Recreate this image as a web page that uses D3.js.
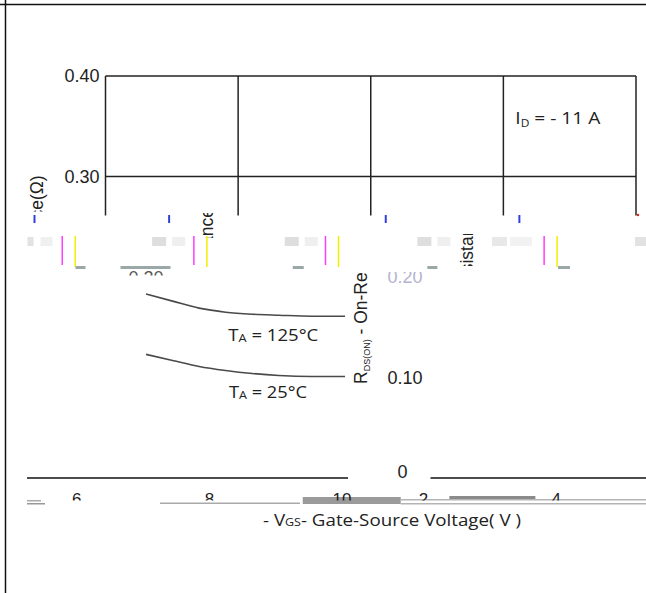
<!DOCTYPE html>
<html>
<head>
<meta charset="utf-8">
<script src="https://cdn.jsdelivr.net/npm/d3@7"></script>
<style>
body { margin: 0; background: #fff; overflow: hidden; }
svg { display: block; }
</style>
</head>
<body>
<div class="canvas"></div>
<script>
const vgsTicks = [2, 4, 6, 8, 10]
const rdsTicks = [0, 0.10, 0.20, 0.30, 0.40]
const rdsFormat = d => d === 0 ? '0' : d.toFixed(2)

// only the right part of the curves survived in the scan
const vgs = [7.0, 7.4, 7.8, 8.2, 8.6, 9.0, 9.5, 10]
const rds125 = [0.183, 0.176, 0.169, 0.165, 0.163, 0.162, 0.161, 0.161]
const rds25 = [0.123, 0.117, 0.111, 0.107, 0.104, 0.102, 0.101, 0.101]
const tempNames = ['125', '25']
const tempLabelV = [8.24, 8.25]
const tempLabelR = [0.136, 0.080]

const width = 646, height = 593
const armo = "'Liberation Sans', Arial, sans-serif"
const cali = "'Open Sans', Lato, sans-serif"

const svg = d3.select('.canvas').append('svg')
    .attr('width', width)
    .attr('height', height)

svg.append('rect')
    .attr('width', width).attr('height', height)
    .attr('fill', '#fff')

const x = d3.scaleLinear().domain([2, 10]).range([105.5, 636])
const y = d3.scaleLinear().domain([0, 0.4]).range([478, 76])
const gx = vgsTicks.map(x)

// the scan rows below the tear are shifted sideways (and wrap round)
const rowShift = 323, rowWrap = 614

let clipCount = 0
function band(x0, y0, x1, y1) {
    const id = 'clip' + (clipCount++)
    svg.append('clipPath').attr('id', id)
        .append('rect')
        .attr('x', x0).attr('y', y0)
        .attr('width', x1 - x0).attr('height', y1 - y0)
    return svg.append('g').attr('clip-path', `url(#${id})`)
}

function yTitle(g, bx, by) {
    const t = g.append('text')
        .attr('transform', `translate(${bx},${by}) rotate(-90)`)
        .attr('font-family', armo)
        .attr('font-size', 17.5)
        .attr('fill', '#222')
    t.append('tspan').text('R')
    t.append('tspan').attr('font-size', 9).attr('dy', 3).text('DS(ON)')
    t.append('tspan').attr('dy', -3).text(' - On-Resistance(\u03a9)')
}

// page frame
svg.append('line')
    .attr('x1', 0).attr('x2', width)
    .attr('y1', 4.5).attr('y2', 4.5)
    .attr('stroke', '#111').attr('stroke-width', 1.5)
svg.append('line')
    .attr('x1', 5.5).attr('x2', 5.5)
    .attr('y1', 0).attr('y2', height)
    .attr('stroke', '#111').attr('stroke-width', 1.5)

// ---- intact top strip
const upper = band(0, 0, width, 215.5)

upper.selectAll('.vgrid')
    .data(vgsTicks)
    .join('line')
    .attr('x1', d => x(d)).attr('x2', d => x(d))
    .attr('y1', y(0.4)).attr('y2', y(0))
    .attr('stroke', '#222').attr('stroke-width', 1.5)

upper.selectAll('.hgrid')
    .data(rdsTicks)
    .join('line')
    .attr('x1', x(2)).attr('x2', x(10))
    .attr('y1', d => y(d)).attr('y2', d => y(d))
    .attr('stroke', '#222').attr('stroke-width', 1.5)

upper.selectAll('.ylab')
    .data(rdsTicks)
    .join('text')
    .attr('x', x(2) - 6)
    .attr('y', d => y(d))
    .attr('dy', '0.36em')
    .attr('text-anchor', 'end')
    .attr('font-family', armo)
    .attr('font-size', 18)
    .attr('fill', '#222')
    .text(rdsFormat)

const idLab = upper.append('text')
    .attr('x', x(8.18)).attr('y', y(0.352))
    .attr('textLength', 85).attr('lengthAdjust', 'spacingAndGlyphs')
    .attr('font-family', cali).attr('font-size', 16).attr('fill', '#222')
idLab.append('tspan').text('I')
idLab.append('tspan').attr('font-size', 10).attr('dy', 3).text('D')
idLab.append('tspan').attr('dy', -3).text(' = - 11 A')

yTitle(band(0, 140, 60, 211.5), 43, 376)

// ---- torn strip: fragments of the title
yTitle(band(190, 213, 222, 238), 213, 384)
yTitle(band(450, 234, 482, 266), 473, 384)

// scan noise in the torn strip, placed against the gridlines
const noise = svg.append('g')
gx.slice(1, 4).forEach(g => {
    noise.append('rect').attr('x', g - 86).attr('y', 237).attr('width', 14).attr('height', 9).attr('fill', '#dedede')
    noise.append('rect').attr('x', g - 66).attr('y', 237).attr('width', 13).attr('height', 9).attr('fill', '#efefef')
})
noise.append('rect').attr('x', gx[0] - 78).attr('y', 237).attr('width', 6).attr('height', 9).attr('fill', '#e2e2e2')
noise.append('rect').attr('x', gx[0] - 65).attr('y', 237).attr('width', 12).attr('height', 9).attr('fill', '#f0f0f0')
noise.append('rect').attr('x', gx[4] - 144).attr('y', 237).attr('width', 15).attr('height', 9).attr('fill', '#e8e8e8')
noise.append('rect').attr('x', gx[4] - 126).attr('y', 237).attr('width', 22).attr('height', 9).attr('fill', '#f2f2f2')
noise.append('rect').attr('x', gx[4] - 1).attr('y', 237).attr('width', 12).attr('height', 9).attr('fill', '#e2e2e2')

const pairOffsets = [-44, -45, -46, 40]
pairOffsets.forEach((o, i) => {
    const px = gx[i] + o
    noise.append('rect').attr('x', px).attr('y', 236).attr('width', 1.5).attr('height', 29).attr('fill', '#ff3cff')
    noise.append('rect').attr('x', px + 13).attr('y', 236).attr('width', 1.5).attr('height', 31).attr('fill', '#f2f000')
})
const blueOffsets = [-72, -70, 14, 15]
blueOffsets.forEach((o, i) => {
    noise.append('rect').attr('x', gx[i] + o).attr('y', 215).attr('width', 2).attr('height', 8).attr('fill', '#3040e0')
})
;[[gx[0] - 30, 10], [gx[2] - 78, 11], [gx[3] - 76, 10], [gx[4] - 78, 12], [gx[0] + 15, 50]].forEach(([bx, bw]) => {
    noise.append('rect').attr('x', bx).attr('y', 266).attr('width', bw).attr('height', 3).attr('fill', '#9aa8a8')
})
noise.append('circle').attr('cx', 638).attr('cy', 215).attr('r', 1.2).attr('fill', '#e02020')

// top of a stray "0.20"
band(0, 262, width, 275.5).append('text')
    .attr('x', x(2) + 58).attr('y', y(0.2) + 1)
    .attr('dy', '0.36em').attr('text-anchor', 'end')
    .attr('font-family', armo).attr('font-size', 18).attr('fill', '#555')
    .text(rdsFormat(0.2))

// ---- shifted lower strip
const low = band(0, 272, width, 490)

low.selectAll('.ylab2')
    .data(rdsTicks.filter(d => d > 0 && d < 0.3))
    .join('text')
    .attr('x', x(2) - 6 + rowShift)
    .attr('y', d => y(d))
    .attr('dy', '0.36em')
    .attr('text-anchor', 'end')
    .attr('font-family', armo)
    .attr('font-size', 18)
    .attr('fill', d => d === 0.2 ? '#b4b4d2' : '#222')
    .text(rdsFormat)

low.append('text')
    .attr('x', x(2) - 6 + rowShift - 15)
    .attr('y', y(0) - 6)
    .attr('dy', '0.36em')
    .attr('text-anchor', 'end')
    .attr('font-family', armo).attr('font-size', 18).attr('fill', '#222')
    .text(rdsFormat(0))

yTitle(low, 367, 384)

// bottom border, wrapped in two pieces
low.append('line')
    .attr('x1', x(2) + rowShift + 2).attr('x2', x(10) + rowShift)
    .attr('y1', y(0)).attr('y2', y(0))
    .attr('stroke', '#111').attr('stroke-width', 1.5)
band(27, 272, width, 490).append('line')
    .attr('x1', x(2) + rowShift - rowWrap).attr('x2', x(10) + rowShift - rowWrap + 3)
    .attr('y1', y(0)).attr('y2', y(0))
    .attr('stroke', '#111').attr('stroke-width', 1.5)

const curves = low.append('g')
    .attr('transform', `translate(${rowShift - rowWrap},0)`)

const line = d3.line()
    .x((d, i) => x(vgs[i]))
    .y(d => y(d))
    .curve(d3.curveMonotoneX)

curves.selectAll('path')
    .data([rds125, rds25])
    .join('path')
    .attr('d', line)
    .attr('fill', 'none')
    .attr('stroke', '#4a4a4a')
    .attr('stroke-width', 1.6)

const tempLen = [90, 78]
tempNames.forEach((n, i) => {
    const t = curves.append('text')
        .attr('x', x(tempLabelV[i])).attr('y', y(tempLabelR[i]))
        .attr('textLength', tempLen[i]).attr('lengthAdjust', 'spacingAndGlyphs')
        .attr('font-family', cali).attr('font-size', 16).attr('fill', '#222')
    t.append('tspan').text('T')
    t.append('tspan').attr('font-size', 11).attr('dy', 1).text('A')
    t.append('tspan').attr('dy', -1).text(' = ' + n + '\u00b0C')
})

// ---- bottom tick row smear
const smear = svg.append('g')
smear.append('rect').attr('x', 27).attr('y', 500).attr('width', 14).attr('height', 1.5).attr('fill', '#aaa')
smear.append('rect').attr('x', 27).attr('y', 503).attr('width', 18).attr('height', 1.5).attr('fill', '#999')
smear.append('rect').attr('x', 160).attr('y', 502.5).attr('width', 140).attr('height', 1.5).attr('fill', '#aaa')
smear.append('rect').attr('x', gx[2] - 68).attr('y', 497).attr('width', 98).attr('height', 7).attr('fill', '#9a9a9a')
smear.append('rect').attr('x', gx[2] + 30).attr('y', 499).attr('width', width - gx[2] - 30).attr('height', 1.5).attr('fill', '#b4b4b4')
smear.append('rect').attr('x', gx[2] + 30).attr('y', 503).attr('width', width - gx[2] - 30).attr('height', 1.5).attr('fill', '#b4b4b4')
smear.append('rect').attr('x', gx[3] - 54).attr('y', 496).attr('width', 86).attr('height', 3).attr('fill', '#8a8a8a')

// only the top of the tick labels is left
const tickRow = band(0, 488, width, 500.5)
tickRow.selectAll('text')
    .data(vgsTicks)
    .join('text')
    .attr('x', d => {
        const p = x(d) + rowShift - 5
        return p > width ? p - rowWrap + 2 : p
    })
    .attr('y', 505)
    .attr('text-anchor', 'middle')
    .attr('font-family', armo).attr('font-size', 17).attr('fill', '#222')
    .text(d => d)

// x-axis title
const xt = svg.append('text')
    .attr('x', 263).attr('y', 526)
    .attr('textLength', 258).attr('lengthAdjust', 'spacingAndGlyphs')
    .attr('font-family', cali).attr('font-size', 16.5).attr('fill', '#222')
xt.append('tspan').text('- V')
xt.append('tspan').attr('font-size', 11).text('GS')
xt.append('tspan').text('- Gate-Source Voltage( V )')
</script>
</body>
</html>
